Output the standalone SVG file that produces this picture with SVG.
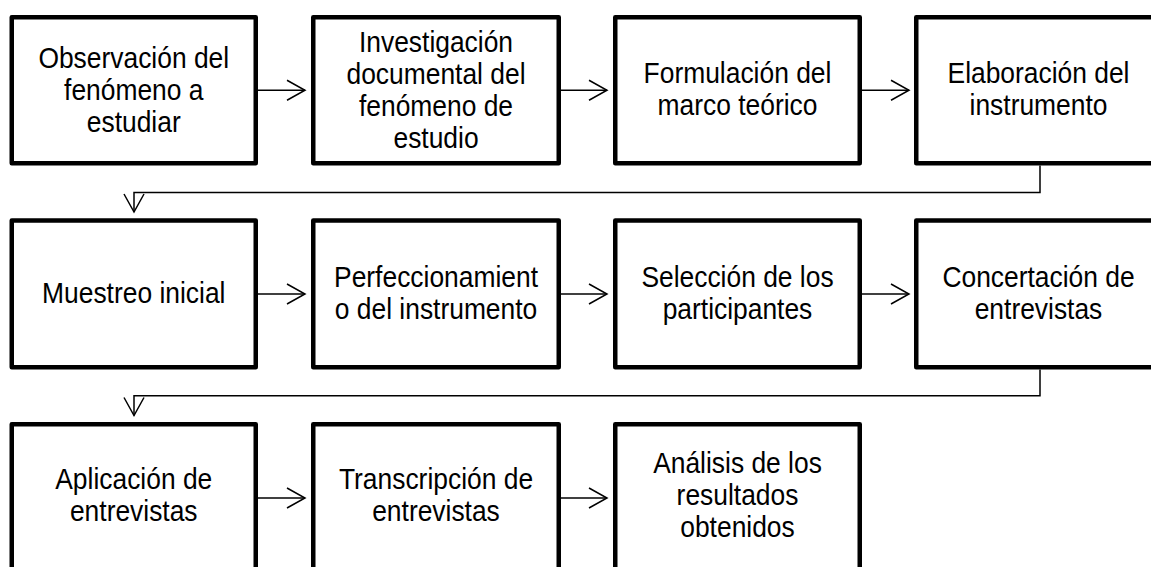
<svg xmlns="http://www.w3.org/2000/svg" width="1151" height="567" viewBox="0 0 1151 567">
<style>
.box{fill:#fff;stroke:#000;stroke-width:4.5;stroke-linejoin:round}
.lbl{font-family:"Liberation Sans",Arial,sans-serif;font-size:30px;text-anchor:middle;fill:#000}
.con{fill:none;stroke:#000;stroke-width:1.5}
</style>
<defs>
<marker id="arr" viewBox="-20 -12 22 24" refX="0" refY="0" markerWidth="22" markerHeight="24" markerUnits="userSpaceOnUse" orient="auto">
<path d="M-18,-10 L0,0 L-18,10" fill="none" stroke="#000" stroke-width="1.5"/>
</marker>
</defs>
<rect width="1151" height="567" fill="#fff"/>
<g id="connectors">
<path class="con" marker-end="url(#arr)" d="M258,90.25 H305"/>
<path class="con" marker-end="url(#arr)" d="M561,90.25 H607"/>
<path class="con" marker-end="url(#arr)" d="M862,90.25 H909"/>
<path class="con" marker-end="url(#arr)" d="M1040,165.5 V192.5 H134 V212"/>
<path class="con" marker-end="url(#arr)" d="M258,294 H305"/>
<path class="con" marker-end="url(#arr)" d="M561,294 H607"/>
<path class="con" marker-end="url(#arr)" d="M862,294 H909"/>
<path class="con" marker-end="url(#arr)" d="M1040,369.5 V395.7 H134 V415.5"/>
<path class="con" marker-end="url(#arr)" d="M258,498 H305"/>
<path class="con" marker-end="url(#arr)" d="M561,498 H607"/>
</g>
<g id="n1"><rect class="box" x="11.75" y="17.25" width="244" height="146"/>
<text class="lbl" transform="translate(133.75 0) scale(0.88 1)"><tspan x="0" y="68.3">Observación del</tspan><tspan x="0" y="100.3">fenómeno a</tspan><tspan x="0" y="132.5">estudiar</tspan></text></g>
<g id="n2"><rect class="box" x="313.25" y="17.25" width="245.5" height="146"/>
<text class="lbl" transform="translate(436 0) scale(0.88 1)"><tspan x="0" y="51.8">Investigación</tspan><tspan x="0" y="84">documental del</tspan><tspan x="0" y="116.2">fenómeno de</tspan><tspan x="0" y="148.4">estudio</tspan></text></g>
<g id="n3"><rect class="box" x="615.25" y="17.25" width="244.5" height="146"/>
<text class="lbl" transform="translate(737.5 0) scale(0.88 1)"><tspan x="0" y="83.5">Formulación del</tspan><tspan x="0" y="115.5">marco teórico</tspan></text></g>
<g id="n4"><rect class="box" x="916.25" y="17.25" width="244.5" height="146"/>
<text class="lbl" transform="translate(1038.5 0) scale(0.88 1)"><tspan x="0" y="83.5">Elaboración del</tspan><tspan x="0" y="115.5">instrumento</tspan></text></g>
<g id="n5"><rect class="box" x="11.75" y="220.5" width="244" height="146.75"/>
<text class="lbl" transform="translate(133.75 0) scale(0.88 1)"><tspan x="0" y="302.7">Muestreo inicial</tspan></text></g>
<g id="n6"><rect class="box" x="313.25" y="220.5" width="245.5" height="146.75"/>
<text class="lbl" transform="translate(436 0) scale(0.88 1)"><tspan x="0" y="287">Perfeccionamient</tspan><tspan x="0" y="319">o del instrumento</tspan></text></g>
<g id="n7"><rect class="box" x="615.25" y="220.5" width="244.5" height="146.75"/>
<text class="lbl" transform="translate(737.5 0) scale(0.88 1)"><tspan x="0" y="287">Selección de los</tspan><tspan x="0" y="319">participantes</tspan></text></g>
<g id="n8"><rect class="box" x="916.25" y="220.5" width="244.5" height="146.75"/>
<text class="lbl" transform="translate(1038.5 0) scale(0.88 1)"><tspan x="0" y="287">Concertación de</tspan><tspan x="0" y="319">entrevistas</tspan></text></g>
<g id="n9"><rect class="box" x="11.75" y="424.25" width="244" height="146"/>
<text class="lbl" transform="translate(133.75 0) scale(0.88 1)"><tspan x="0" y="489">Aplicación de</tspan><tspan x="0" y="521">entrevistas</tspan></text></g>
<g id="n10"><rect class="box" x="313.25" y="424.25" width="245.5" height="146"/>
<text class="lbl" transform="translate(436 0) scale(0.88 1)"><tspan x="0" y="489">Transcripción de</tspan><tspan x="0" y="521">entrevistas</tspan></text></g>
<g id="n11"><rect class="box" x="615.25" y="424.25" width="244.5" height="146"/>
<text class="lbl" transform="translate(737.5 0) scale(0.88 1)"><tspan x="0" y="473.3">Análisis de los</tspan><tspan x="0" y="505">resultados</tspan><tspan x="0" y="536.7">obtenidos</tspan></text></g>
</svg>
